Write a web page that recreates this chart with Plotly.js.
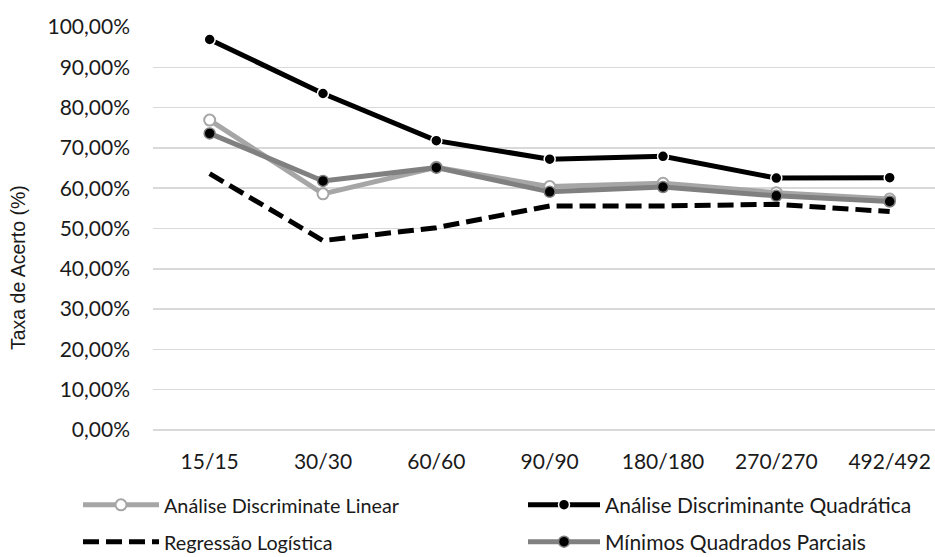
<!DOCTYPE html>
<html>
<head>
<meta charset="utf-8">
<script src="https://cdn.plot.ly/plotly-3.0.1.min.js"></script>
<style>html,body{margin:0;padding:0;background:#fff;}#chart{width:935px;height:557px;}</style>
</head>
<body>
<div id="chart"></div>
<script>
const categories = ["15/15", "30/30", "60/60", "90/90", "180/180", "270/270", "492/492"];
const seriesNames = ["Análise Discriminate Linear", "Análise Discriminante Quadrática", "Regressão Logística", "Mínimos Quadrados Parciais"];
const adl = [76.9, 58.6, 65.2, 60.4, 61.2, 58.9, 57.3];
const adq = [96.9, 83.5, 71.8, 67.2, 67.9, 62.5, 62.6];
const rl  = [63.6, 47.0, 50.2, 55.6, 55.6, 56.0, 54.2];
const mqp = [73.6, 61.8, 65.1, 59.1, 60.3, 58.1, 56.7];
const yTicks = [0,10,20,30,40,50,60,70,80,90,100];
const yTickText = yTicks.map(v => v.toFixed(2).replace('.', ',') + '%');

const font = {family: 'Lato, "Open Sans", sans-serif', size: 21, color: '#1a1a1a'};
const fontSmall = Object.assign({}, font, {size: 19.8});
const titleFont = {family: '"Liberation Sans", Arial, sans-serif', size: 19.5, color: '#1a1a1a'};

const traces = [
  {x: categories, y: adl, name: seriesNames[0], type: 'scatter', mode: 'lines+markers',
   line: {color: '#a6a6a6', width: 5},
   marker: {symbol: 'circle', size: 11, color: '#ffffff', line: {color: '#a6a6a6', width: 2}},
   legend: 'legend'},
  {x: categories, y: adq, name: seriesNames[1], type: 'scatter', mode: 'lines+markers',
   line: {color: '#000000', width: 5},
   marker: {symbol: 'circle', size: 11, color: '#000000', line: {color: '#ffffff', width: 1.5}},
   legend: 'legend2'},
  {x: categories, y: rl, name: seriesNames[2], type: 'scatter', mode: 'lines',
   line: {color: '#000000', width: 5, dash: '16px,7px'},
   legend: 'legend3'},
  {x: categories, y: mqp, name: seriesNames[3], type: 'scatter', mode: 'lines+markers',
   line: {color: '#808080', width: 5},
   marker: {symbol: 'circle', size: 11, color: '#000000', line: {color: '#808080', width: 1.5}},
   legend: 'legend4'}
];

function leg(xpx, ypx, f, iw) {
  return {
    orientation: 'h', xref: 'container', yref: 'container', xanchor: 'left', yanchor: 'middle',
    x: xpx/935, y: 1 - ypx/557, font: f, itemwidth: iw,
    bgcolor: 'rgba(0,0,0,0)', itemclick: false, borderwidth: 0
  };
}

const layout = {
  width: 935, height: 557,
  margin: {l: 153, r: 0, t: 27, b: 127},
  paper_bgcolor: '#ffffff', plot_bgcolor: '#ffffff',
  font: font,
  showlegend: true,
  legend: leg(78, 505, fontSmall, 76),
  legend2: leg(523, 505, font, 72),
  legend3: leg(78, 542, fontSmall, 76),
  legend4: leg(523, 542, font, 72),
  xaxis: {
    type: 'category', range: [-0.5, 6.4], showgrid: false, zeroline: false,
    showline: false, ticks: '', tickfont: font, ticklabelstandoff: 17, fixedrange: true
  },
  yaxis: {
    range: [0, 100], tickvals: yTicks, ticktext: yTickText, showgrid: true,
    gridcolor: '#d9d9d9', gridwidth: 1.5, zeroline: true, zerolinecolor: '#d9d9d9', zerolinewidth: 1.5,
    showline: false, ticks: '', tickfont: font, ticklabelstandoff: 22, fixedrange: true
  },
  annotations: [{
    text: 'Taxa de Acerto (%)', textangle: -90, xref: 'paper', yref: 'paper',
    x: -135/782, y: (430-268)/403, xanchor: 'center', yanchor: 'middle', showarrow: false,
    font: titleFont
  }]
};

Plotly.newPlot('chart', traces, layout, {displayModeBar: false, staticPlot: true});
</script>
</body>
</html>
